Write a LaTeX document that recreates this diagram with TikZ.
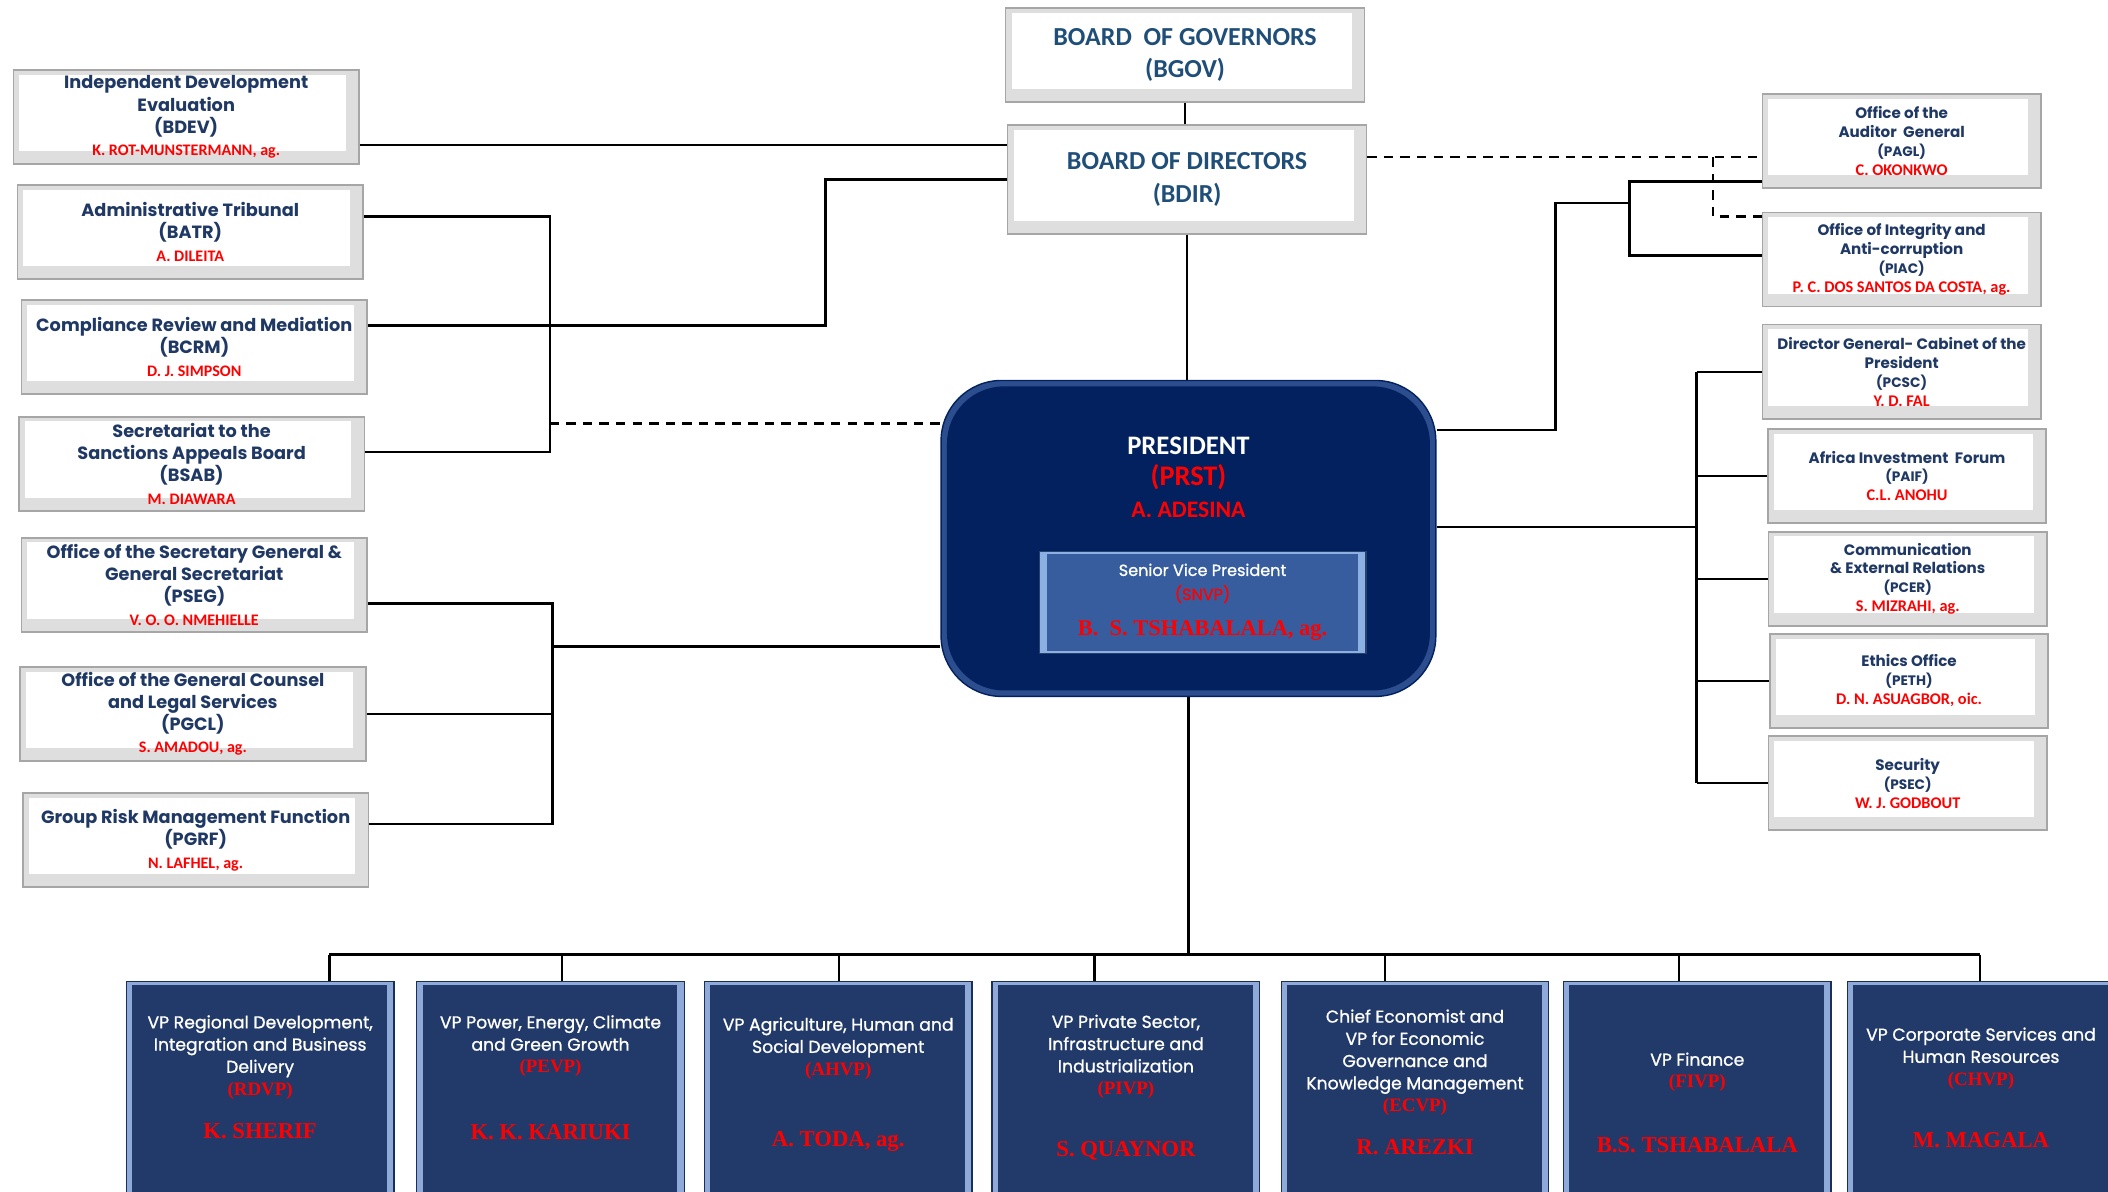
\documentclass[tikz,border=0pt]{standalone}
\usepackage{fontspec}
\setmainfont{Poppins}
\newfontfamily\gothsemi[FakeBold=1]{Poppins}
\newfontfamily\calib{Carlito}
\newfontfamily\vpserif{Liberation Serif}
\usetikzlibrary{calc}

\definecolor{navytext}{HTML}{1F3864}
\definecolor{boardtext}{HTML}{1F4E79}
\definecolor{namered}{HTML}{FF0000}
\definecolor{boxline}{HTML}{A6A6A6}
\definecolor{bevelgray}{HTML}{DEDEDE}
\definecolor{prstblue}{HTML}{03215E}
\definecolor{prstrim}{HTML}{2C4D8E}
\definecolor{snvpblue}{HTML}{375D9F}
\definecolor{snvpedge}{HTML}{8DB0E2}
\definecolor{vpblue}{HTML}{223A69}
\definecolor{vpedge}{HTML}{8FA9D8}

\newcommand{\redname}[2][6.8]{{\calib\bfseries\fontsize{#1}{8}\selectfont\color{namered}#2}}
\newcommand{\unitcode}[1]{{\fontsize{5.8}{8}\selectfont #1}}
\newcommand{\vpcode}[1]{{\vpserif\bfseries\fontsize{8}{9}\selectfont\color{namered}#1}}
\newcommand{\vpname}[1]{{\vpserif\bfseries\fontsize{9.6}{9}\selectfont\color{namered}#1}}

\tikzset{
  whitebox/.style={draw=boxline, line width=0.7pt, fill=bevelgray, align=center, inner sep=1pt, text=navytext,
    path picture={\fill[white] ([shift={(2.5pt,5.5pt)}]path picture bounding box.south west) rectangle ([shift={(-5.5pt,-2pt)}]path picture bounding box.north east);}},
  leftbox/.style={whitebox, minimum width=51.4mm, minimum height=14mm, font=\bfseries\fontsize{7.5}{9.4}\selectfont},
  rightbox/.style={whitebox, minimum width=41.4mm, minimum height=14mm, font=\bfseries\fontsize{6.4}{8}\selectfont},
  boardbox/.style={whitebox, minimum width=53.4mm, text=boardtext, font=\calib\bfseries\fontsize{11}{13.6}\selectfont},
  prstbox/.style={rounded corners=9mm, fill=prstrim, draw=prstblue, line width=0.6pt, minimum width=73.6mm, minimum height=47mm,
    path picture={\fill[prstblue, rounded corners=8.5mm] ([shift={(2.5pt,2.5pt)}]path picture bounding box.south west) rectangle ([shift={(-2.5pt,-2.5pt)}]path picture bounding box.north east);}},
  snvpbox/.style={fill=snvpedge, draw=snvpblue!70!black, line width=0.5pt, minimum width=48.6mm, minimum height=15.2mm, align=center, inner sep=1pt,
    text=white, font=\gothsemi\fontsize{6.8}{10.2}\selectfont,
    path picture={\fill[snvpblue] ([shift={(3.5pt,1.2pt)}]path picture bounding box.south west) rectangle ([shift={(-3.5pt,-1.2pt)}]path picture bounding box.north east);}},
  vpbox/.style={fill=vpedge, draw=vpblue!80!black, line width=0.6pt, minimum width=39.8mm, minimum height=31.6mm, align=center, inner sep=1pt,
    text=white, font=\gothsemi\fontsize{7.3}{9.4}\selectfont,
    path picture={\fill[vpblue] ([shift={(2.5pt,0pt)}]path picture bounding box.south west) rectangle ([shift={(-3pt,-1.5pt)}]path picture bounding box.north east);}},
  link/.style={line width=1pt},
  dashlink/.style={line width=1pt, dash pattern=on 4pt off 3pt},
}

\begin{document}
\begin{tikzpicture}[x=0.2mm, y=0.2mm]
\useasboundingbox (0,0) rectangle (1568,-886);

% boards and president
\node[boardbox, minimum height=14mm] (BGOV) at (881.5,-41) {BOARD\ \ OF GOVERNORS\\(BGOV)};
\node[boardbox, minimum height=16.2mm] (BDIR) at (883,-133.5) {BOARD OF DIRECTORS\\(BDIR)};
\node[prstbox] (PRST) at (884,-400.5) {};
\node[align=center, font=\calib\bfseries\fontsize{10}{13.4}\selectfont] (PRSTtxt) at (884,-355)
  {{\fontsize{11.3}{13}\selectfont\color{white}PRESIDENT}\\{\fontsize{12}{13}\selectfont\color{namered}(PRST)}\\\textcolor{namered}{A. ADESINA}};
\node[snvpbox] (SNVP) at (894.5,-448)
  {Senior Vice President\\\textcolor{namered}{(SNVP)}\\[5pt]{\vpserif\bfseries\fontsize{9.5}{10}\selectfont\color{namered}B.\ \ S. TSHABALALA, ag.}};

% left column
\node[leftbox] (BDEV) at (138.5,-87) {Independent Development\\Evaluation\\(BDEV)\\\redname{K. ROT-MUNSTERMANN, ag.}};
\node[leftbox] (BATR) at (141.5,-172.5) {Administrative Tribunal\\(BATR)\\\redname{A. DILEITA}};
\node[leftbox] (BCRM) at (144.5,-258) {Compliance Review and Mediation\\(BCRM)\\\redname{D. J. SIMPSON}};
\node[leftbox] (BSAB) at (142.5,-345) {Secretariat to the\\Sanctions Appeals Board\\(BSAB)\\\redname{M. DIAWARA}};
\node[leftbox] (PSEG) at (144.5,-435) {Office of the Secretary General \&\\General Secretariat\\(PSEG)\\\redname{V. O. O. NMEHIELLE}};
\node[leftbox] (PGCL) at (143.5,-531) {Office of the General Counsel\\and Legal Services\\(PGCL)\\\redname{S. AMADOU, ag.}};
\node[leftbox] (PGRF) at (145.5,-625) {Group Risk Management Function\\(PGRF)\\\redname{N. LAFHEL, ag.}};

% right column
\node[rightbox] (PAGL) at (1414.5,-105) {Office of the\\Auditor\ \ General\\\unitcode{(PAGL)}\\\redname[6.9]{C. OKONKWO}};
\node[rightbox] (PIAC) at (1414.5,-193) {Office of Integrity and\\Anti-corruption\\\unitcode{(PIAC)}\\\redname[6.9]{P. C. DOS SANTOS DA COSTA, ag.}};
\node[rightbox] (PCSC) at (1414.5,-276.5) {Director General- Cabinet of the\\President\\\unitcode{(PCSC)}\\\redname[6.9]{Y. D. FAL}};
\node[rightbox] (PAIF) at (1418.5,-354) {Africa Investment\ \ Forum\\\unitcode{(PAIF)}\\\redname[6.9]{C.L. ANOHU}};
\node[rightbox] (PCER) at (1419,-430.5) {Communication\\\& External Relations\\\unitcode{(PCER)}\\\redname[6.9]{S. MIZRAHI, ag.}};
\node[rightbox] (PETH) at (1420,-506.5) {Ethics Office\\\unitcode{(PETH)}\\\redname[6.9]{D. N. ASUAGBOR, oic.}};
\node[rightbox] (PSEC) at (1419,-582.5) {Security\\\unitcode{(PSEC)}\\\redname[6.9]{W. J. GODBOUT}};

% vice presidents
\node[vpbox] (RDVP) at (193.5,-809) {VP Regional Development,\\Integration and Business\\Delivery\\\vpcode{(RDVP)}\\[9pt]\vpname{K. SHERIF}\\[-0.3pt]\mbox{}};
\node[vpbox] (PEVP) at (409.5,-809) {VP Power, Energy, Climate\\and Green Growth\\\vpcode{(PEVP)}\\[19pt]\vpname{K. K. KARIUKI}\\[-0.9pt]\mbox{}};
\node[vpbox] (AHVP) at (623.5,-809) {VP Agriculture, Human and\\Social Development\\\vpcode{(AHVP)}\\[21pt]\vpname{A. TODA, ag.}\\[-4.8pt]\mbox{}};
\node[vpbox] (PIVP) at (837.5,-809) {VP Private Sector,\\Infrastructure and\\Industrialization\\\vpcode{(PIVP)}\\[17pt]\vpname{S. QUAYNOR}};
\node[vpbox] (ECVP) at (1052.5,-809) {Chief Economist and\\VP for Economic\\Governance and\\Knowledge Management\\\vpcode{(ECVP)}\\[9pt]\vpname{R. AREZKI}\\[-4.8pt]\mbox{}};
\node[vpbox] (FIVP) at (1262.5,-809) {\mbox{}\\[9pt]VP Finance\\\vpcode{(FIVP)}\\[18pt]\vpname{B.S. TSHABALALA}};
\node[vpbox] (CHVP) at (1473.5,-809) {VP Corporate Services and\\Human Resources\\\vpcode{(CHVP)}\\[17pt]\vpname{M. MAGALA}};

% board links
\draw[link] (BGOV.south) -- (BGOV.south |- BDIR.north);
\draw[link] (BDIR.south) -- (BDIR.south |- PRST.north);

% left links
\coordinate (evalj) at (610,-108);
\coordinate (crmj) at (614,-242);
\draw[link] (BDEV.east |- evalj) -- (BDIR.west |- evalj);
\draw[link] (BCRM.east |- crmj) -- (crmj) |- (BDIR.west);
\coordinate (sabtop) at (409,-161);
\coordinate (sabbot) at (409,-336);
\coordinate (sabdash) at (409,-315);
\draw[link] (BATR.east |- sabtop) -- (sabtop) -- (sabbot) -- (BSAB.east |- sabbot);
\draw[dashlink] (sabdash) -- (PRST.west |- sabdash);
\coordinate (segtop) at (411,-449);
\coordinate (segbot) at (411,-613);
\coordinate (segmid) at (411,-481);
\draw[link] (PSEG.east |- segtop) -- (segtop) -- (segbot) -- (PGRF.east |- segbot);
\draw[link] (PGCL.east) -- (PGCL.east -| segtop);
\draw[link] (segmid) -- (PRST.west |- segmid);

% right links
\coordinate (audtop) at (1212,-135);
\coordinate (audbot) at (1212,-190);
\coordinate (audmid) at (1212,-151);
\coordinate (audturn) at (1157,-151);
\coordinate (prstout) at (1157,-320);
\draw[link] (PRST.east |- prstout) -- (prstout) -- (audturn) -- (audmid);
\draw[link] (PAGL.west |- audtop) -- (audtop) -- (audbot) -- (PIAC.west |- audbot);
\coordinate (dashtop) at (1274,-117);
\coordinate (dashbot) at (1274,-161);
\draw[dashlink] (BDIR.east |- dashtop) -- (PAGL.west |- dashtop);
\draw[dashlink] (dashtop) -- (dashbot) -- (PIAC.west |- dashbot);
\coordinate (cabbus) at (1262,-392);
\draw[link] (PRST.east |- cabbus) -- (cabbus);
\draw[link] (PCSC.west -| cabbus) -- (PSEC.west -| cabbus);
\foreach \n in {PCSC,PAIF,PCER,PETH,PSEC}
  \draw[link] (\n.west -| cabbus) -- (\n.west);

% vice president links
\coordinate (vpbus) at (886,-710);
\draw[link] (PRST.south) -- (PRST.south |- vpbus);
\foreach \n/\x in {RDVP/245,PEVP/418,AHVP/624,PIVP/814,ECVP/1030,FIVP/1249,CHVP/1473}{
  \coordinate (drop\n) at (\x,-710);
  \draw[link] (drop\n) -- (drop\n |- \n.north);
}
\draw[link] (dropRDVP) -- (dropCHVP);

\end{tikzpicture}
\end{document}
